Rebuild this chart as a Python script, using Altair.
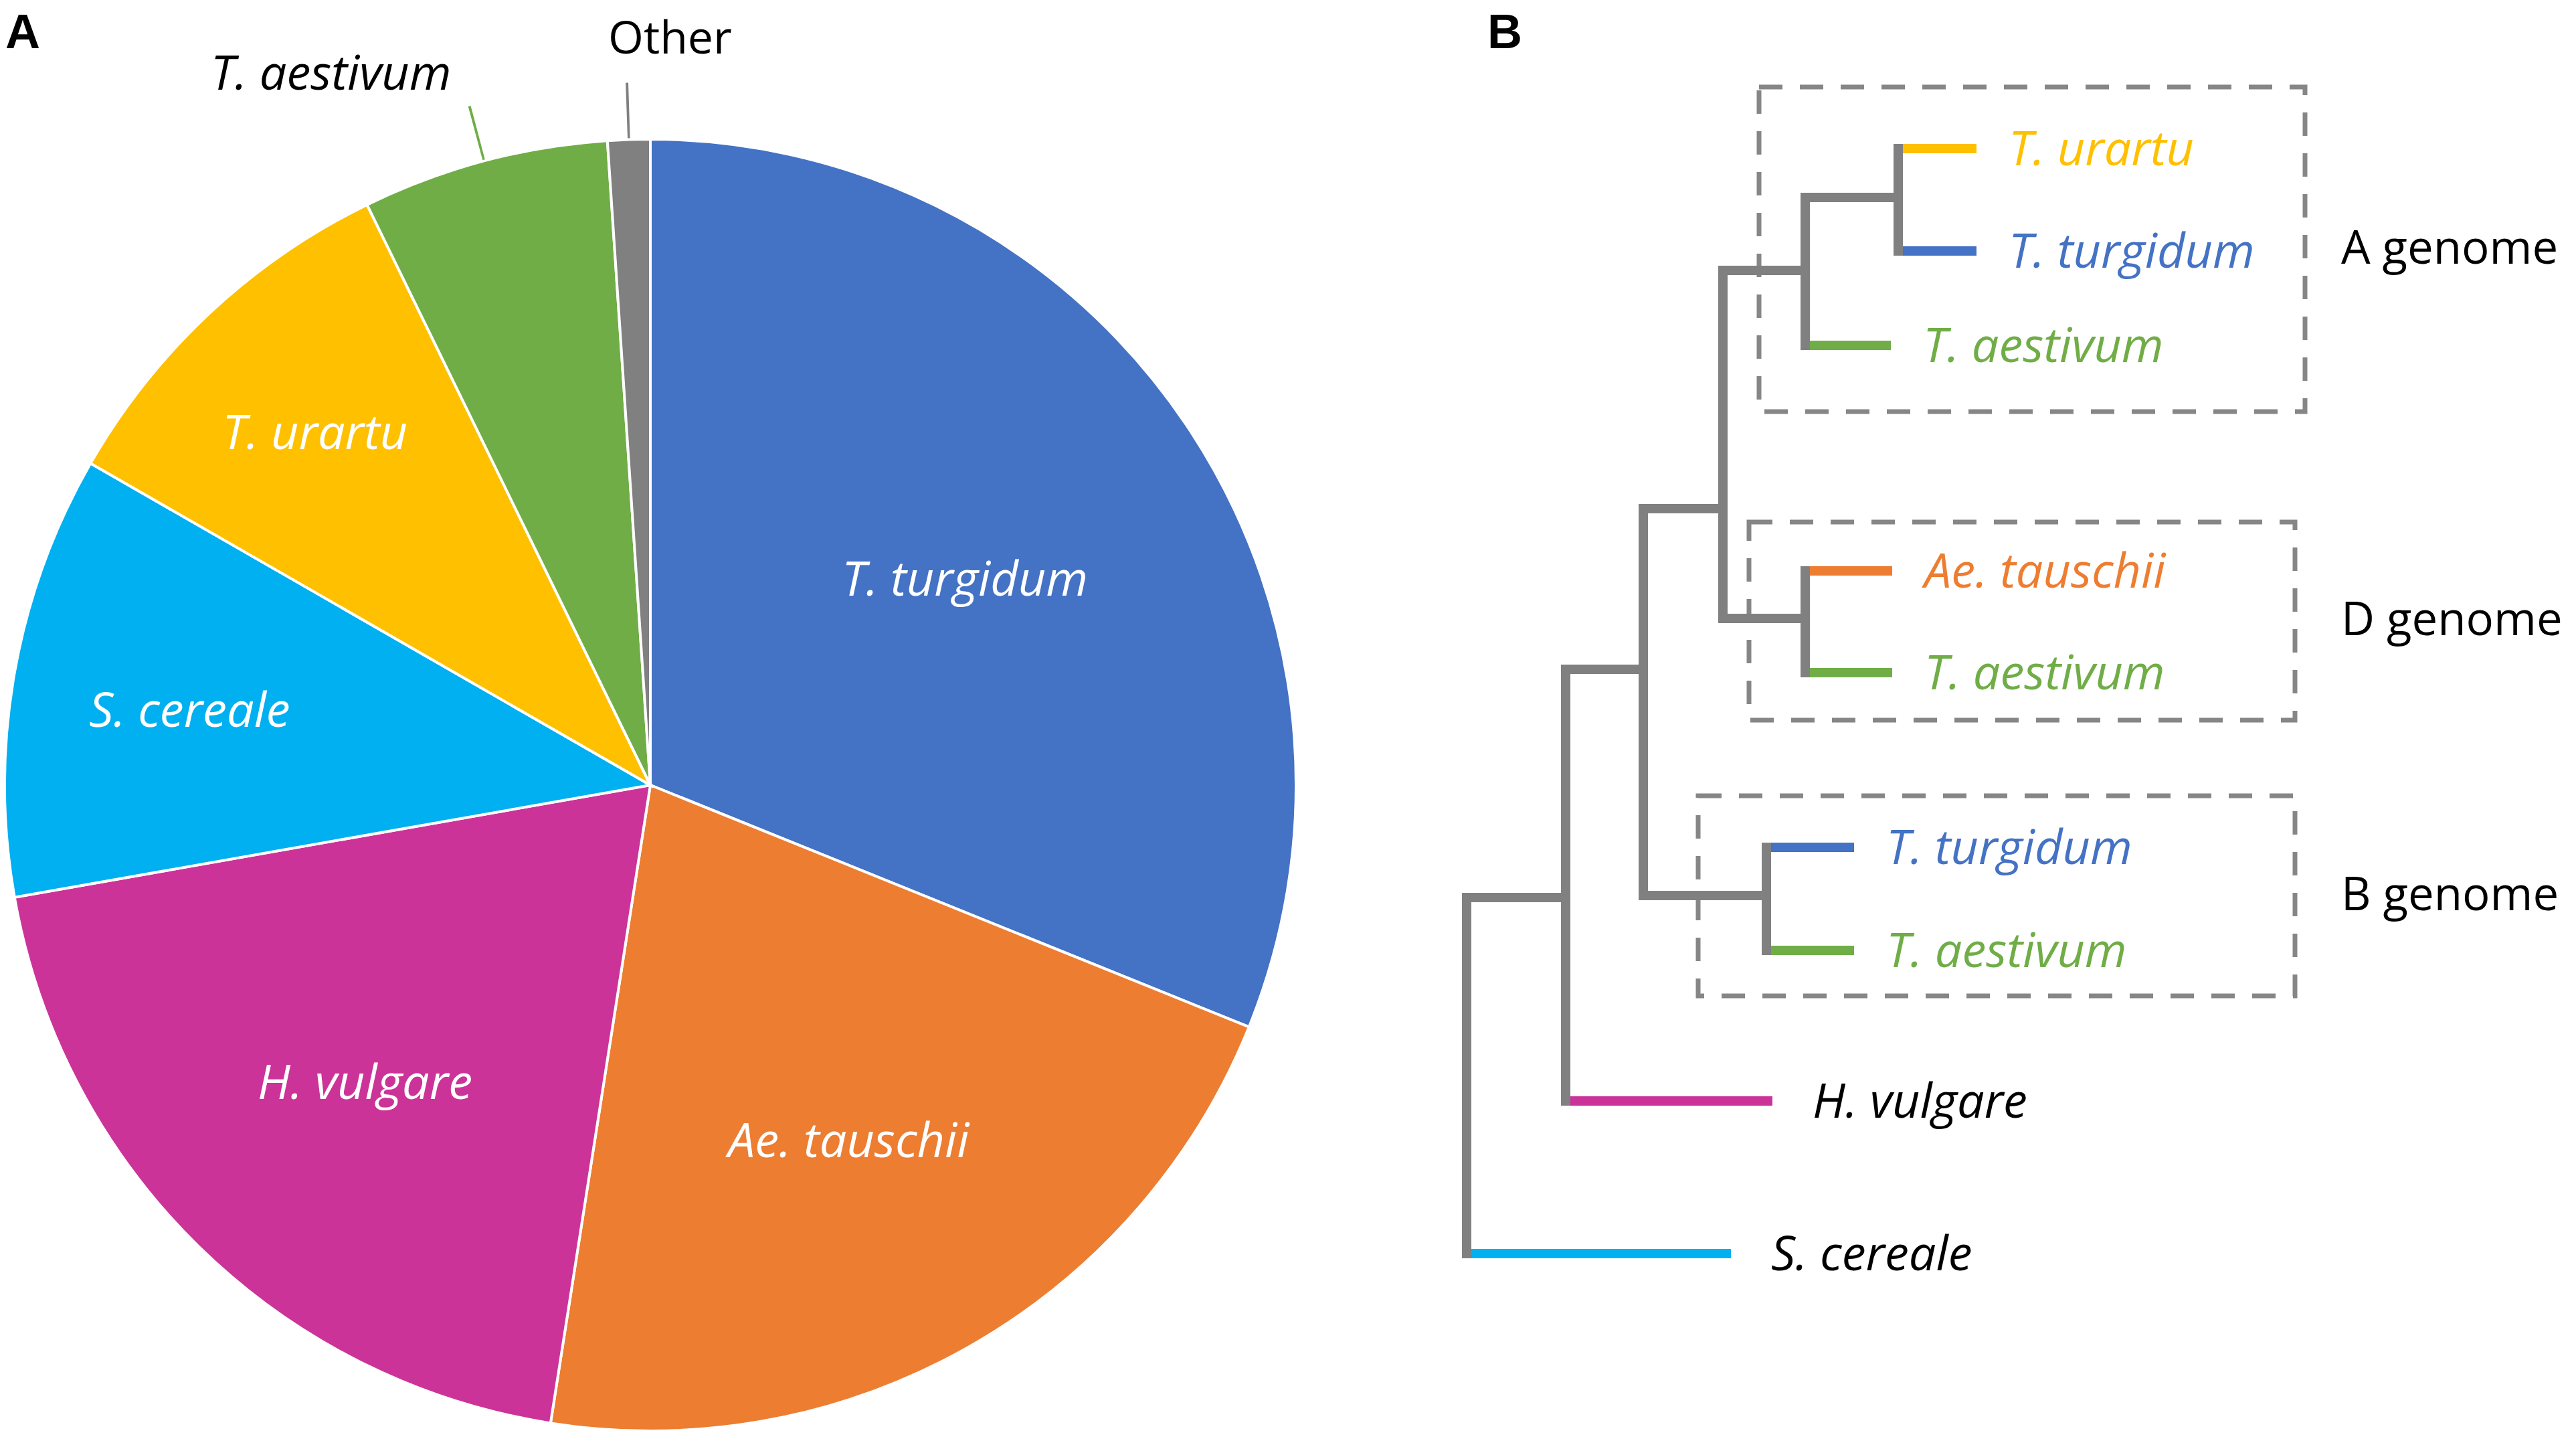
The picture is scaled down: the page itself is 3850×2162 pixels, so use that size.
import altair as alt
import pandas as pd

FONT = "Open Sans"

# ---------------- Panel A: pie ----------------
species = ["T. turgidum", "Ae. tauschii", "H. vulgare", "S. cereale", "T. urartu", "T. aestivum", "Other"]
shares = [31.11, 21.36, 19.75, 11.08, 9.47, 6.17, 1.06]
palette = ["#4472C4", "#ED7D31", "#CC3399", "#00B0F0", "#FFC000", "#70AD47", "#808080"]

# ---------------- Panel B: tree ----------------
node_name = ["root", "n2", "n3", "n4", "nA", "nA2", "nD", "nB"]
node_parent = ["", "root", "n2", "n3", "n4", "nA", "n4", "n3"]
node_depth = [0, 148, 264, 383, 506, 645, 506, 448]
node_pos = [1600, 1341, 1000, 760, 404, 295, 924, 1338]

leaf_species = ["T. urartu", "T. turgidum", "T. aestivum", "Ae. tauschii", "T. aestivum",
                "T. turgidum", "T. aestivum", "H. vulgare", "S. cereale"]
leaf_genome = ["A", "A", "A", "D", "D", "B", "B", "", ""]
leaf_parent = ["nA2", "nA2", "nA", "nD", "nD", "nB", "nB", "n2", "root"]
leaf_depth = [762, 762, 634, 636, 636, 579, 579, 457, 395]
leaf_pos = [222, 375, 516, 853, 1005, 1266, 1420, 1645, 1873]

box_label = ["A genome", "D genome", "B genome"]
box_x1 = [437, 422, 346]
box_x2 = [1253, 1238, 1238]
box_y1 = [130, 780, 1189]
box_y2 = [615, 1076, 1488]

panel_letters = ["A", "B"]

# ---------------- tables ----------------
pie_df = pd.DataFrame({"species": species, "share": shares, "idx": list(range(len(species)))})

depth = dict(zip(node_name, node_depth))
pos = dict(zip(node_name, node_pos))
parent = dict(zip(node_name, node_parent))
kids = {n: [] for n in node_name}
for n in node_name:
    if parent[n]:
        kids[parent[n]].append(pos[n])
for par, p in zip(leaf_parent, leaf_pos):
    kids[par].append(p)

grey_h = pd.DataFrame([dict(x=depth[parent[n]], x2=depth[n], y=pos[n]) for n in node_name if parent[n]])
grey_v = pd.DataFrame([dict(x=depth[n], y=min(kids[n]), y2=max(kids[n])) for n in node_name])
leaf_h = pd.DataFrame([dict(x=depth[par], x2=d, y=p, species=sp)
                       for sp, par, d, p in zip(leaf_species, leaf_parent, leaf_depth, leaf_pos)])
leaf_df = pd.DataFrame({"species": leaf_species, "genome": leaf_genome, "x": leaf_depth, "y": leaf_pos})
box_df = pd.DataFrame({"label": box_label, "x": box_x1, "x2": box_x2, "y": box_y1, "y2": box_y2})

W, H = 3834, 2146
CX, CY, R = 964, 1165, 965
FS = 72

color = alt.Color("species:N", scale=alt.Scale(domain=species, range=palette), legend=None)
theta_st = alt.Theta("share:Q", stack=True)
order = alt.Order("idx:Q", sort="ascending")
xs = alt.Scale(domain=[-2184, 1650], zero=False, nice=False)
ys = alt.Scale(domain=[8, 2154], reverse=True, zero=False, nice=False)


def X(f):
    return alt.X(f, type="quantitative", scale=xs, axis=None)


def Y(f):
    return alt.Y(f, type="quantitative", scale=ys, axis=None)


base_pie = alt.Chart(pie_df)
# cumulative share -> middle of every slice
mid_pie = base_pie.transform_window(
    cum="sum(share)", sort=[alt.SortField("idx", order="ascending")], frame=[None, 0]
).transform_calculate(mid="datum.cum - datum.share / 2")

pie = base_pie.mark_arc(radius=R, stroke="white", strokeWidth=4).encode(
    theta=theta_st, color=color, order=order, x=alt.value(CX), y=alt.value(CY))

inner_labels = mid_pie.transform_filter("datum.share >= 8").transform_calculate(
    lr="494 + 2272 / datum.share",
).mark_text(font=FONT, fontSize=FS, fontStyle="italic", color="white",
            align="center", baseline="middle", dy=12).encode(
    theta=alt.Theta("mid:Q", stack=None), radius=alt.Radius("lr:Q", scale=None),
    text="species:N", x=alt.value(CX), y=alt.value(CY))

leaders = mid_pie.transform_calculate(
    t0="datum.mid - 0.03",
    t1="datum.mid + 0.03",
).transform_filter("datum.share < 8").mark_arc(radius=1050, radius2=967).encode(
    theta=alt.Theta("t0:Q", stack=None), theta2="t1:Q", color=color,
    x=alt.value(CX), y=alt.value(CY))

out_aes = mid_pie.transform_filter("datum.species == 'T. aestivum'").mark_text(
    radius=1050, font=FONT, fontSize=FS, fontStyle="italic", color="black",
    align="right", baseline="alphabetic", dx=-27, dy=-24).encode(
    theta=alt.Theta("mid:Q", stack=None), text="species:N", x=alt.value(CX), y=alt.value(CY))

out_other = mid_pie.transform_filter("datum.species == 'Other'").mark_text(
    radius=1050, font=FONT, fontSize=68, color="black",
    align="left", baseline="alphabetic", dx=-28, dy=-44).encode(
    theta=alt.Theta("mid:Q", stack=None), text="species:N", x=alt.value(CX), y=alt.value(CY))

boxes = alt.Chart(box_df).mark_rect(filled=False, color="#868686", strokeWidth=7,
                                    strokeDash=[35, 26]).encode(
    x=X("x"), x2="x2:Q", y=Y("y"), y2="y2:Q")

leaf_rules = alt.Chart(leaf_h).mark_rule(strokeWidth=14, strokeCap="butt").encode(
    x=X("x"), x2="x2:Q", y=Y("y"), color=color)

grey_h_rules = alt.Chart(grey_h).mark_rule(strokeWidth=14, strokeCap="square", color="#808080").encode(
    x=X("x"), x2="x2:Q", y=Y("y"))

grey_v_rules = alt.Chart(grey_v).mark_rule(strokeWidth=14, strokeCap="square", color="#808080").encode(
    x=X("x"), y=Y("y"), y2="y2:Q")

leaf_lab_col = alt.Chart(leaf_df).transform_filter("datum.genome != ''").mark_text(
    align="left", baseline="middle", dx=48, dy=3, font=FONT, fontSize=FS, fontStyle="italic").encode(
    x=X("x"), y=Y("y"), text="species:N", color=color)

leaf_lab_blk = alt.Chart(leaf_df).transform_filter("datum.genome == ''").mark_text(
    align="left", baseline="middle", dx=60, dy=3, font=FONT, fontSize=FS, fontStyle="italic",
    color="black").encode(x=X("x"), y=Y("y"), text="species:N")

genome_lab = alt.Chart(box_df).transform_joinaggregate(xr="max(x2)").transform_calculate(
    yc="(datum.y + datum.y2) / 2").mark_text(
    align="left", baseline="middle", dx=54, font=FONT, fontSize=69, color="black").encode(
    x=X("xr"), y=Y("yc"), text="label:N")

letters_df = pd.DataFrame({"t": panel_letters})
letter_a = alt.Chart(letters_df).transform_filter("datum.t == 'A'").mark_text(
    font="Liberation Sans", fontWeight="bold", fontSize=72, align="left", baseline="alphabetic",
    color="black").encode(text="t:N", x=alt.value(0), y=alt.value(64))
letter_b = alt.Chart(letters_df).transform_filter("datum.t == 'B'").mark_text(
    font="Liberation Sans", fontWeight="bold", fontSize=72, align="left", baseline="alphabetic",
    color="black").encode(text="t:N", x=alt.value(2215), y=alt.value(64))

chart = alt.layer(
    pie, inner_labels, leaders, out_aes, out_other,
    boxes, leaf_rules, grey_h_rules, grey_v_rules,
    leaf_lab_col, leaf_lab_blk, genome_lab, letter_a, letter_b,
).properties(
    width=W, height=H, autosize=alt.AutoSizeParams(type="none"), padding=0,
).configure_view(strokeWidth=0)

chart.save("out.html", embed_options={"renderer": "svg", "actions": False})
